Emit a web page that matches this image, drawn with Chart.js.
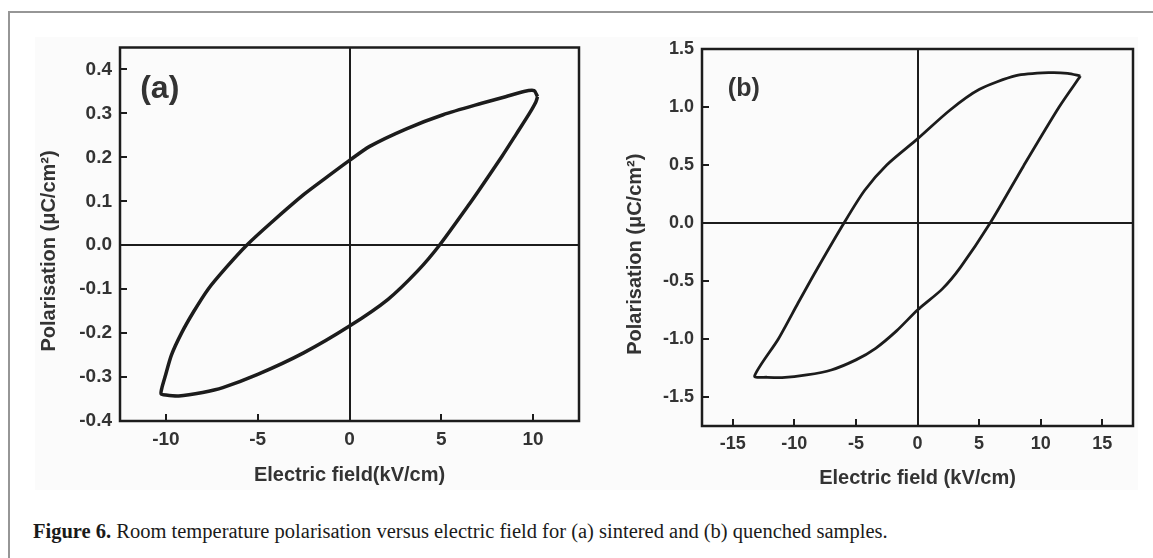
<!DOCTYPE html>
<html>
<head>
<meta charset="utf-8">
<script src="https://cdn.jsdelivr.net/npm/chart.js@4.4.1/dist/chart.umd.min.js"></script>
<style>
  body { margin: 0; width: 1153px; height: 558px; background: #fff; position: relative; overflow: hidden; }
  #frame { position: absolute; left: 8px; top: 11px; width: 1200px; height: 600px; border-top: 2px solid #969696; border-left: 2px solid #969696; }
  #img { position: absolute; left: 35px; top: 37px; width: 1103px; height: 453px; background: #fbfbfb; }
  canvas { position: absolute; }
  #cap { position: absolute; left: 33px; top: 520px; font: 20.5px "Liberation Serif", serif; color: #1a1a1a; white-space: nowrap; }
</style>
</head>
<body>
<div id="frame"></div>
<div id="img"></div>
<canvas id="chartA" width="580" height="480" style="left:20px;top:20px"></canvas>
<canvas id="chartB" width="540" height="480" style="left:610px;top:20px"></canvas>
<div id="cap"><b>Figure 6.</b> Room temperature polarisation versus electric field for (a) sintered and (b) quenched samples.</div>
<script>
// (a) sintered - loop traced from the positive tip, upper branch then lower branch
var fieldA = [10.24, 10.05, 9.5, 8.5, 7.2, 5.1, 3.1, 1.1, 0.0, -1.2, -2.5, -4.3, -5.6, -6.7, -7.7, -8.5, -9.15, -9.7, -10.05, -10.22, -10.26,
              -10.0, -9.3, -8.0, -6.9, -5.0, -2.5, 0.0, 2.1, 3.7, 4.9, 6.55, 7.1, 8.3, 9.1, 9.8, 10.15, 10.24];
var polA   = [0.338, 0.352, 0.350, 0.338, 0.323, 0.297, 0.265, 0.225, 0.193, 0.156, 0.115, 0.050, 0.0, -0.050, -0.100, -0.152, -0.200, -0.250, -0.300, -0.325, -0.338,
              -0.341, -0.343, -0.335, -0.324, -0.294, -0.245, -0.184, -0.123, -0.059, 0.0, 0.095, 0.128, 0.202, 0.254, 0.300, 0.326, 0.338];

// (b) quenched
var fieldB = [13.23, 12.2, 10.7, 8.0, 5.0, 2.6, 0.0, -2.5, -4.3, -5.97, -8.2, -9.7, -11.3, -13.23,
              -12.2, -11.0, -9.0, -7.0, -5.0, -3.4, -1.7, 0.0, 2.0, 3.5, 5.9, 8.6, 11.5, 13.23];
var polB   = [1.267, 1.290, 1.296, 1.270, 1.150, 0.970, 0.725, 0.500, 0.280, 0.0, -0.405, -0.690, -1.000, -1.320,
              -1.330, -1.333, -1.310, -1.267, -1.180, -1.080, -0.930, -0.750, -0.570, -0.380, 0.0, 0.490, 1.000, 1.267];

var xTicksA = [-10, -5, 0, 5, 10];
var yTicksA = [-0.4, -0.3, -0.2, -0.1, 0.0, 0.1, 0.2, 0.3, 0.4];
var xTicksB = [-15, -10, -5, 0, 5, 10, 15];
var yTicksB = [-1.5, -1.0, -0.5, 0.0, 0.5, 1.0, 1.5];

var ink = '#1c1c1c';
var txt = '#333';

// plot box and panel letter
var boxPlugin = {
  id: 'panel',
  afterDraw: function (chart, args, opts) {
    var ctx = chart.ctx, a = chart.chartArea;
    ctx.save();
    ctx.strokeStyle = ink;
    ctx.lineWidth = 2.5;
    ctx.strokeRect(a.left, a.top, a.right - a.left, a.bottom - a.top);
    ctx.fillStyle = txt;
    ctx.font = 'bold ' + opts.size + 'px "Liberation Sans", Arial, sans-serif';
    ctx.textAlign = 'left';
    ctx.textBaseline = 'middle';
    ctx.fillText(opts.text, chart.scales.x.getPixelForValue(opts.x), chart.scales.y.getPixelForValue(opts.y));
    ctx.restore();
  }
};

function axisGrid() {
  return {
    color: function (c) { return c.tick && c.tick.value === 0 ? ink : 'rgba(0,0,0,0)'; },
    lineWidth: 2,
    tickColor: ink,
    tickWidth: 2,
    tickLength: -7
  };
}

function loopChart(id, xs, ys, o) {
  var pts = xs.map(function (x, i) { return {x: x, y: ys[i]}; });
  var font = function (s) { return {family: '"Liberation Sans", Arial, sans-serif', weight: 'bold', size: s}; };
  return new Chart(document.getElementById(id), {
    type: 'scatter',
    data: {
      datasets: [{
        data: pts,
        showLine: true,
        borderColor: ink,
        borderWidth: o.lw,
        pointRadius: 0,
        tension: 0.25,
        fill: false
      }]
    },
    options: {
      responsive: false,
      animation: false,
      layout: {padding: {top: o.padTop, right: o.padRight, left: 0, bottom: 0}},
      plugins: {
        legend: {display: false},
        tooltip: {enabled: false},
        panel: o.panel
      },
      scales: {
        x: {
          type: 'linear',
          min: o.xMin, max: o.xMax,
          afterBuildTicks: function (s) { s.ticks = o.xTicks.map(function (v) { return {value: v}; }); },
          afterFit: function (s) { s.height = o.xH; },
          border: {display: false},
          grid: axisGrid(),
          ticks: {padding: 14, color: txt, font: font(o.tickSize), callback: function (v) { return String(v); }},
          title: {display: true, text: o.xTitle, color: txt, font: font(o.titleSize), padding: {top: 0, bottom: o.xTitlePad}}
        },
        y: {
          type: 'linear',
          min: o.yMin, max: o.yMax,
          afterBuildTicks: function (s) { s.ticks = o.yTicks.map(function (v) { return {value: v}; }); },
          afterFit: function (s) { s.width = o.yW; },
          border: {display: false},
          grid: axisGrid(),
          ticks: {padding: 15, color: txt, font: font(o.tickSize), callback: function (v) { return v.toFixed(1); }},
          title: {display: true, text: 'Polarisation (\u03bcC/cm\u00b2)\u00a0\u00a0\u00a0\u00a0\u00a0\u00a0', color: txt, font: font(o.titleSize), padding: {top: o.yTitlePad, bottom: 0}}
        }
      }
    },
    plugins: [boxPlugin]
  });
}

loopChart('chartA', fieldA, polA, {
  lw: 3.5, padTop: 27.5, padRight: 21, xH: 79, yW: 100,
  xMin: -12.5, xMax: 12.5, yMin: -0.4, yMax: 0.45,
  xTicks: xTicksA, yTicks: yTicksA,
  tickSize: 19, titleSize: 20, xTitlePad: 13, yTitlePad: 17,
  xTitle: 'Electric field(kV/cm)',
  panel: {text: '(a)', x: -11.4, y: 0.355, size: 32}
});

loopChart('chartB', fieldB, polB, {
  lw: 2.8, padTop: 29, padRight: 17, xH: 74, yW: 92,
  xMin: -17.5, xMax: 17.5, yMin: -1.75, yMax: 1.5,
  xTicks: xTicksB, yTicks: yTicksB,
  tickSize: 18, titleSize: 20, xTitlePad: 10, yTitlePad: 13,
  xTitle: 'Electric field (kV/cm)',
  panel: {text: '(b)', x: -15.4, y: 1.155, size: 25}
});
</script>
</body>
</html>
